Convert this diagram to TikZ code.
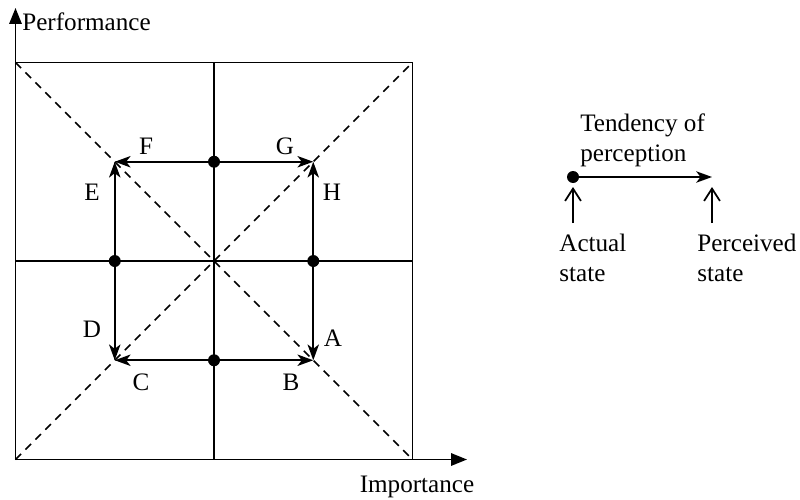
\documentclass[tikz,border=0pt]{standalone}
\usepackage{fontspec}
\setmainfont{Liberation Serif}
\usetikzlibrary{arrows.meta}
\begin{document}
\begin{tikzpicture}[
    x=1cm,y=1cm,
    every node/.style={font=\fontsize{14.3}{17}\selectfont, inner sep=0pt},
    grid/.style={draw=black, line width=0.85pt},
    diag/.style={draw=black, line width=0.85pt, dash pattern=on 4.5pt off 3.5pt},
    axis/.style={draw=black, line width=1pt, -{Triangle[length=9pt,width=7pt]}},
    move/.style={draw=black, line width=1.1pt, -{Stealth[length=9pt,width=6.5pt,inset=2.5pt]}},
    hint/.style={draw=black, line width=1pt, -{Straight Barb[length=7pt,width=9pt]}},
    dot/.style={circle, fill=black, minimum size=0.24cm}
]
    \useasboundingbox (0,0) rectangle (16,9.98);

    % frame and quadrants
    \coordinate (o) at (0.31,0.79);
    \coordinate (sw) at (0.31,0.79);
    \coordinate (se) at (8.25,0.79);
    \coordinate (ne) at (8.25,8.73);
    \coordinate (nw) at (0.31,8.73);
    \coordinate (c) at (4.28,4.76);
    \draw[grid] (sw) rectangle (ne);
    \draw[grid] (4.28,0.79) -- (4.28,8.73);
    \draw[grid] (0.31,4.76) -- (8.25,4.76);
    \draw[diag] (sw) -- (ne);
    \draw[diag] (nw) -- (se);

    % axes
    \coordinate (ytip) at (0.31,9.82);
    \coordinate (xtip) at (9.34,0.79);
    \draw[axis] (o) -- (ytip);
    \draw[axis] (o) -- (xtip);
    \node[anchor=west] (perf) at (0.44,9.54) {Performance};
    \node (imp) at (8.34,0.24) {Importance};

    % inner square
    \coordinate (p1) at (2.295,6.745);
    \coordinate (p2) at (6.265,6.745);
    \coordinate (p3) at (6.265,2.775);
    \coordinate (p4) at (2.295,2.775);
    \node[dot] (top) at (4.28,6.745) {};
    \node[dot] (bot) at (4.28,2.775) {};
    \node[dot] (lft) at (2.295,4.76) {};
    \node[dot] (rgt) at (6.265,4.76) {};

    \draw[move] (top) -- (p1);
    \draw[move] (top) -- (p2);
    \draw[move] (lft) -- (p1);
    \draw[move] (lft) -- (p4);
    \draw[move] (rgt) -- (p2);
    \draw[move] (rgt) -- (p3);
    \draw[move] (bot) -- (p4);
    \draw[move] (bot) -- (p3);

    \node (F) at (2.92,7.06) {F};
    \node (G) at (5.70,7.06) {G};
    \node (E) at (1.84,6.14) {E};
    \node (H) at (6.64,6.14) {H};
    \node (D) at (1.84,3.40) {D};
    \node (A) at (6.66,3.22) {A};
    \node (C) at (2.82,2.34) {C};
    \node (B) at (5.82,2.34) {B};

    % legend
    \node[dot] (actual) at (11.46,6.44) {};
    \coordinate (perceived) at (14.24,6.44);
    \draw[move] (actual) -- (perceived);
    \node[anchor=west, align=left] (tend) at (11.6,7.18) {Tendency of\\perception};
    \node[anchor=west, align=left] (lbla) at (11.18,4.82) {Actual\\state};
    \node[anchor=west, align=left] (lblp) at (13.94,4.82) {Perceived\\state};
    \coordinate (ha) at (11.46,5.52);
    \coordinate (hat) at (11.46,6.24);
    \coordinate (hp) at (14.24,5.52);
    \coordinate (hpt) at (14.24,6.24);
    \draw[hint] (ha) -- (hat);
    \draw[hint] (hp) -- (hpt);
\end{tikzpicture}
\end{document}
